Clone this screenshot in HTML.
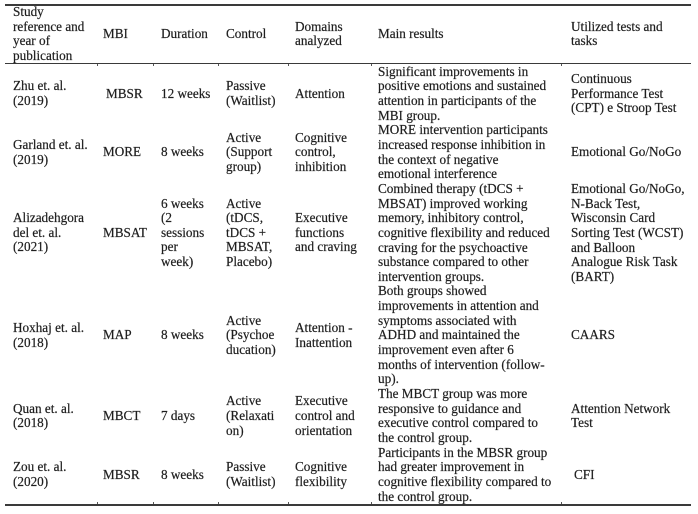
<!DOCTYPE html>
<html>
<head>
<meta charset="utf-8">
<style>
  html, body { margin:0; padding:0; background:#fff; }
  body { width:698px; height:514px; position:relative; overflow:hidden;
         font-family:"Liberation Serif", serif; font-size:13.2px; color:#1e1e1e;
         -webkit-text-stroke:0.2px #1e1e1e; }
  .hr { position:absolute; left:5px; width:686px; height:1.6px; background:#3a3a3a; }
  .tk { position:absolute; width:1px; height:2px; background:#555; }
  .row { position:absolute; left:0; width:698px; }
  .c { position:absolute; top:0; height:100%; display:flex; align-items:center;
       line-height:14.65px; white-space:nowrap; }
</style>
</head>
<body>
<div class="hr" style="top:4px"></div>
<div class="hr" style="top:62.5px"></div>
<div class="hr" style="top:504px"></div>
<div class="tk" style="left:97px;top:64px"></div>
<div class="tk" style="left:153px;top:64px"></div>
<div class="tk" style="left:218px;top:64px"></div>
<div class="tk" style="left:288px;top:64px"></div>
<div class="tk" style="left:371px;top:64px"></div>
<div class="tk" style="left:561px;top:64px"></div>
<div class="tk" style="left:97px;top:502px"></div>
<div class="tk" style="left:153px;top:502px"></div>
<div class="tk" style="left:218px;top:502px"></div>
<div class="tk" style="left:288px;top:502px"></div>
<div class="tk" style="left:371px;top:502px"></div>
<div class="tk" style="left:561px;top:502px"></div>

<!-- Header -->
<div class="row" style="top:5.2px;height:58.6px">
  <div class="c" style="left:13px">Study<br>reference and<br>year of<br>publication</div>
  <div class="c" style="left:103px">MBI</div>
  <div class="c" style="left:161px">Duration</div>
  <div class="c" style="left:226px">Control</div>
  <div class="c" style="left:295px">Domains<br>analyzed</div>
  <div class="c" style="left:378px">Main results</div>
  <div class="c" style="left:571px">Utilized tests and<br>tasks</div>
</div>

<!-- Row 1 -->
<div class="row" style="top:64.7px;height:58.6px">
  <div class="c" style="left:13px">Zhu et. al.<br>(2019)</div>
  <div class="c" style="left:106px">MBSR</div>
  <div class="c" style="left:161px">12 weeks</div>
  <div class="c" style="left:226px">Passive<br>(Waitlist)</div>
  <div class="c" style="left:295px">Attention</div>
  <div class="c" style="left:378px">Significant improvements in<br>positive emotions and sustained<br>attention in participants of the<br>MBI group.</div>
  <div class="c" style="left:571px">Continuous<br>Performance Test<br>(CPT) e Stroop Test</div>
</div>

<!-- Row 2 -->
<div class="row" style="top:123.3px;height:58.6px">
  <div class="c" style="left:13px">Garland et. al.<br>(2019)</div>
  <div class="c" style="left:103px">MORE</div>
  <div class="c" style="left:161px">8 weeks</div>
  <div class="c" style="left:226px">Active<br>(Support<br>group)</div>
  <div class="c" style="left:295px">Cognitive<br>control,<br>inhibition</div>
  <div class="c" style="left:378px">MORE intervention participants<br>increased response inhibition in<br>the context of negative<br>emotional interference</div>
  <div class="c" style="left:571px">Emotional Go/NoGo</div>
</div>

<!-- Row 3 -->
<div class="row" style="top:181.9px;height:102.55px">
  <div class="c" style="left:13px">Alizadehgora<br>del et. al.<br>(2021)</div>
  <div class="c" style="left:103px">MBSAT</div>
  <div class="c" style="left:161px">6 weeks<br>(2<br>sessions<br>per<br>week)</div>
  <div class="c" style="left:226px">Active<br>(tDCS,<br>tDCS +<br>MBSAT,<br>Placebo)</div>
  <div class="c" style="left:295px">Executive<br>functions<br>and craving</div>
  <div class="c" style="left:378px">Combined therapy (tDCS +<br>MBSAT) improved working<br>memory, inhibitory control,<br>cognitive flexibility and reduced<br>craving for the psychoactive<br>substance compared to other<br>intervention groups.</div>
  <div class="c" style="left:571px">Emotional Go/NoGo,<br>N-Back Test,<br>Wisconsin Card<br>Sorting Test (WCST)<br>and Balloon<br>Analogue Risk Task<br>(BART)</div>
</div>

<!-- Row 4 -->
<div class="row" style="top:284.5px;height:102.55px">
  <div class="c" style="left:13px">Hoxhaj et. al.<br>(2018)</div>
  <div class="c" style="left:103px">MAP</div>
  <div class="c" style="left:161px">8 weeks</div>
  <div class="c" style="left:226px">Active<br>(Psychoe<br>ducation)</div>
  <div class="c" style="left:295px">Attention -<br>Inattention</div>
  <div class="c" style="left:378px">Both groups showed<br>improvements in attention and<br>symptoms associated with<br>ADHD and maintained the<br>improvement even after 6<br>months of intervention (follow-<br>up).</div>
  <div class="c" style="left:571px">CAARS</div>
</div>

<!-- Row 5 -->
<div class="row" style="top:387px;height:58.6px">
  <div class="c" style="left:13px">Quan et. al.<br>(2018)</div>
  <div class="c" style="left:103px">MBCT</div>
  <div class="c" style="left:161px">7 days</div>
  <div class="c" style="left:226px">Active<br>(Relaxati<br>on)</div>
  <div class="c" style="left:295px">Executive<br>control and<br>orientation</div>
  <div class="c" style="left:378px">The MBCT group was more<br>responsive to guidance and<br>executive control compared to<br>the control group.</div>
  <div class="c" style="left:571px">Attention Network<br>Test</div>
</div>

<!-- Row 6 -->
<div class="row" style="top:445.6px;height:58.6px">
  <div class="c" style="left:13px">Zou et. al.<br>(2020)</div>
  <div class="c" style="left:103px">MBSR</div>
  <div class="c" style="left:161px">8 weeks</div>
  <div class="c" style="left:226px">Passive<br>(Waitlist)</div>
  <div class="c" style="left:295px">Cognitive<br>flexibility</div>
  <div class="c" style="left:378px">Participants in the MBSR group<br>had greater improvement in<br>cognitive flexibility compared to<br>the control group.</div>
  <div class="c" style="left:574px">CFI</div>
</div>
</body>
</html>
